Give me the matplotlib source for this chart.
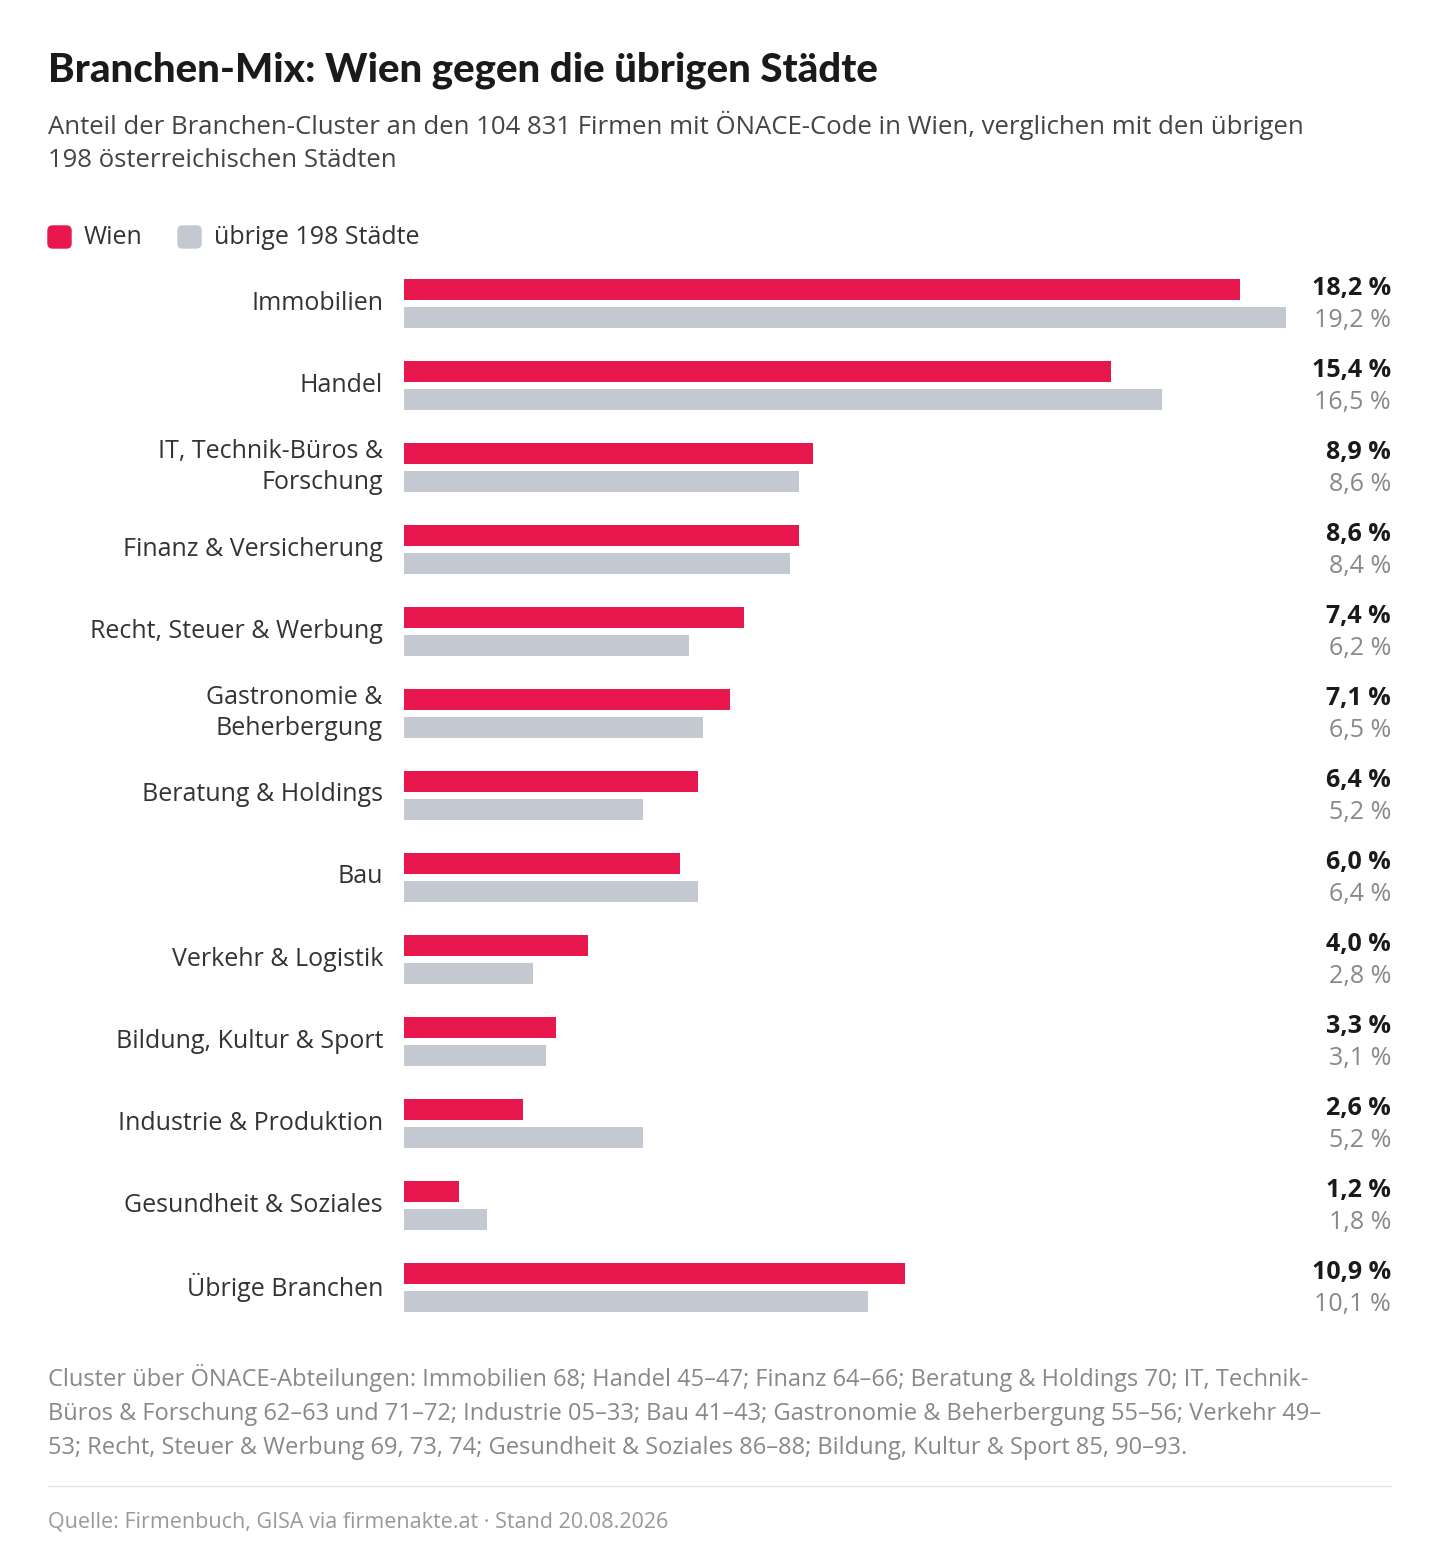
import matplotlib.pyplot as plt
from matplotlib.patches import FancyBboxPatch

W, H = 1440, 1568
RED = "#E8174D"
GREY = "#C4C9D1"

categories = ["Immobilien", "Handel", "IT, Technik-Büros &\nForschung", "Finanz & Versicherung",
              "Recht, Steuer & Werbung", "Gastronomie &\nBeherbergung", "Beratung & Holdings", "Bau",
              "Verkehr & Logistik", "Bildung, Kultur & Sport", "Industrie & Produktion",
              "Gesundheit & Soziales", "Übrige Branchen"]
wien = [18.2, 15.4, 8.9, 8.6, 7.4, 7.1, 6.4, 6.0, 4.0, 3.3, 2.6, 1.2, 10.9]
rest = [19.2, 16.5, 8.6, 8.4, 6.2, 6.5, 5.2, 6.4, 2.8, 3.1, 5.2, 1.8, 10.1]

plt.rcParams['font.family'] = ['Open Sans', 'DejaVu Sans']
fig = plt.figure(figsize=(W / 100, H / 100), dpi=100)

def ft(x, y, s, **kw):
    fig.text(x / W, 1 - y / H, s, **kw)

ft(48, 70, "Branchen-Mix: Wien gegen die übrigen Städte", fontsize=29, fontweight='black',
   family=['Lato', 'DejaVu Sans'], color="#1a1a1a", va='center')
ft(48, 142, "Anteil der Branchen-Cluster an den 104 831 Firmen mit ÖNACE-Code in Wien, verglichen mit den übrigen\n198 österreichischen Städten",
   fontsize=18.5, color="#444444", va='center', linespacing=1.45)

# legend
for x0, col, lab in [(48, RED, "Wien"), (178, GREY, "übrige 198 Städte")]:
    fig.patches.append(FancyBboxPatch((x0 / W, 1 - 248 / H), 23 / W, 22 / H,
                                      boxstyle="round,pad=0,rounding_size=0.003",
                                      transform=fig.transFigure, color=col))
    ft(x0 + 36, 238, lab, fontsize=18, color="#333333", va='center')

# bar area: axes in pixel coords
left, right = 404, 1286
top, bot = 260, 1340
ax = fig.add_axes([left / W, 1 - bot / H, (right - left) / W, (bot - top) / H])
ax.set_xlim(0, max(rest))
ax.set_ylim(bot, top)
ax.axis('off')

pitch = 82
for i, (c, w, r) in enumerate(zip(categories, wien, rest)):
    yr = 289 + pitch * i
    yg = yr + 28
    ax.barh(yr, w, height=21, color=RED)
    ax.barh(yg, r, height=21, color=GREY)
    ft(383, (yr + yg) / 2, c, fontsize=18, color="#333333", ha='right', va='center',
       linespacing=1.3)
    ft(1391, yr, f"{w:.1f} %".replace('.', ','), fontsize=18, fontweight='bold',
       color="#1a1a1a", ha='right', va='center')
    ft(1391, yg + 4, f"{r:.1f} %".replace('.', ','), fontsize=18, color="#888888",
       ha='right', va='center')

ft(48, 1412, "Cluster über ÖNACE-Abteilungen: Immobilien 68; Handel 45–47; Finanz 64–66; Beratung & Holdings 70; IT, Technik-\n"
   "Büros & Forschung 62–63 und 71–72; Industrie 05–33; Bau 41–43; Gastronomie & Beherbergung 55–56; Verkehr 49–\n"
   "53; Recht, Steuer & Werbung 69, 73, 74; Gesundheit & Soziales 86–88; Bildung, Kultur & Sport 85, 90–93.",
   fontsize=17, color="#888888", va='center', linespacing=1.55)
fig.add_artist(plt.Line2D([48 / W, 1391 / W], [1 - 1486 / H] * 2, color="#e5e5e5", lw=1))
ft(48, 1522, "Quelle: Firmenbuch, GISA via firmenakte.at · Stand 20.08.2026", fontsize=15.5,
   color="#999999", va='center')

fig.savefig("out.png", dpi=100, facecolor="white")
